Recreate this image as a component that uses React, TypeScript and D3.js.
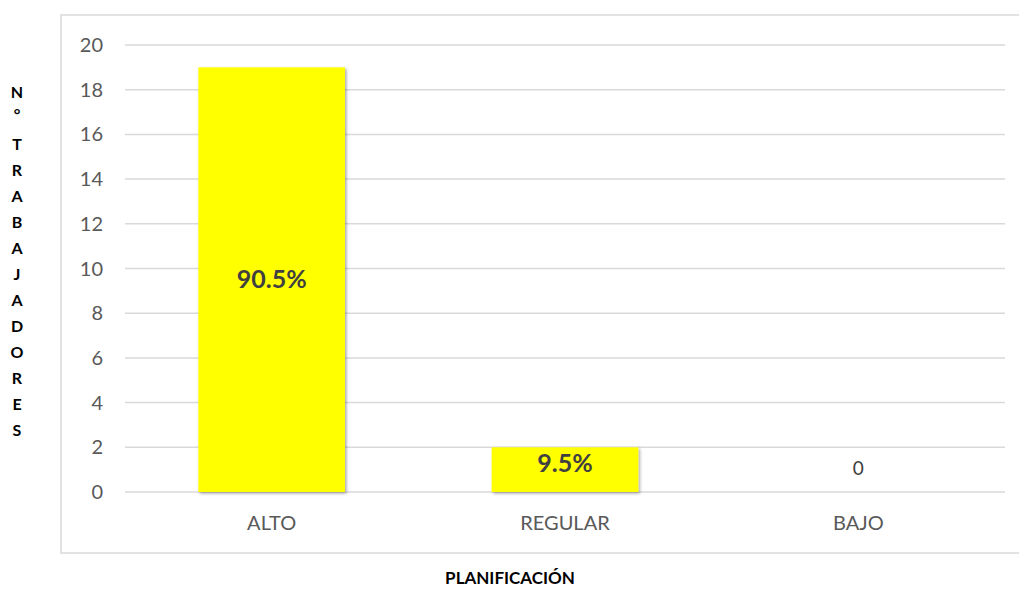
import React from "react";
import * as d3 from "d3";

const categories = ["ALTO", "REGULAR", "BAJO"];
const values = [19, 2, 0];
const labels = ["90.5%", "9.5%", "0"];
const yTicks = [0, 2, 4, 6, 8, 10, 12, 14, 16, 18, 20];
const yTitle = ["N", "°", "T", "R", "A", "B", "A", "J", "A", "D", "O", "R", "E", "S"];
const xTitle = "PLANIFICACIÓN";

const W = 1019, H = 590;
const plot = { left: 125, right: 1005, top: 45, bottom: 492 };
const FONT = "Lato, 'Open Sans', sans-serif";

export default function App() {
  const x = d3.scaleBand<string>().domain(categories).range([plot.left, plot.right]).paddingInner(0.5).paddingOuter(0.25);
  const y = d3.scaleLinear().domain([0, 20]).range([plot.bottom, plot.top]);
  return (
    <svg width={W} height={H} style={{ position: "absolute", left: 0, top: 0 }} fontFamily={FONT}>
      <defs>
        <filter id="sh" x="-10%" y="-10%" width="130%" height="130%">
          <feDropShadow dx="1.5" dy="1.5" stdDeviation="1.5" floodColor="#000" floodOpacity="0.35" />
        </filter>
      </defs>
      <rect x={0} y={0} width={W} height={H} fill="#fff" />
      <rect x={61} y={15} width={W} height={538} fill="none" stroke="#d9d9d9" strokeWidth={1.5} />
      {yTicks.map((t) => (
        <g key={t}>
          <line x1={plot.left} x2={plot.right} y1={y(t)} y2={y(t)} stroke="#d9d9d9" strokeWidth={1.5} />
          <text x={103} y={y(t)} dy="0.35em" textAnchor="end" fontSize={20} fill="#595959">{t}</text>
        </g>
      ))}
      {categories.map((c, i) => {
        const bx = x(c)!;
        const bw = x.bandwidth();
        const cx = bx + bw / 2;
        const v = values[i];
        return (
          <g key={c}>
            {v > 0 && (
              <rect x={bx} y={y(v)} width={bw} height={y(0) - y(v)} fill="#ffff00" filter="url(#sh)" />
            )}
            {v > 0 ? (
              <text x={cx} y={(y(v) + y(0)) / 2 - (v < 4 ? 6 : 0)} dy="0.35em" textAnchor="middle" fontSize={25} fontWeight="bold" fill="#404040">{labels[i]}</text>
            ) : (
              <text x={cx} y={y(0) - 24} dy="0.35em" textAnchor="middle" fontSize={19} fill="#404040">{labels[i]}</text>
            )}
            <text x={cx} y={523} dy="0.35em" textAnchor="middle" fontSize={20} fill="#595959">{c}</text>
          </g>
        );
      })}
      {yTitle.map((ch, i) => (
        <text key={i} x={17} y={92 + i * 26 - (i === 1 ? 4 : 0)} dy="0.35em" textAnchor="middle" fontSize={16} fontWeight="bold" fill="#000">{ch}</text>
      ))}
      <text x={510} y={578} dy="0.35em" textAnchor="middle" fontSize={17} fontWeight="bold" fill="#000">{xTitle}</text>
    </svg>
  );
}
